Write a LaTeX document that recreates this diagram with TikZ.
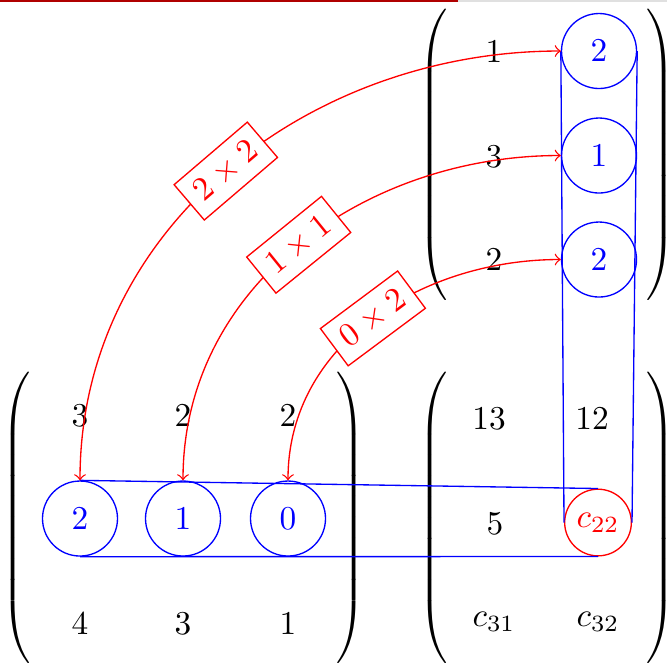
\documentclass[tikz,border=0pt]{standalone}
\usepackage{amsmath,amssymb}
\usepackage{graphicx}
\usepackage{tikz}
\usetikzlibrary{arrows.meta}

\newcommand{\matlp}{\scalebox{1}[1.04]{$\left(\vcenter{\hrule height 44.5pt depth 44.5pt width 0pt}\right.$}}
\newcommand{\matrp}{\scalebox{1}[1.04]{$\left.\vcenter{\hrule height 44.5pt depth 44.5pt width 0pt}\right)$}}

\begin{document}
\begin{tikzpicture}[x=0.3pt,y=0.3pt,>=to,
    entry/.style={inner sep=0pt},
    picked/.style={draw=blue,text=blue,circle,minimum size=22.5pt,inner sep=0pt},
    result/.style={draw=red,text=red,circle,minimum size=20pt,inner sep=0pt},
    prod/.style={draw=red,text=red,fill=white,sloped},
    paren/.style={inner sep=0pt}]
            \useasboundingbox (0,0) rectangle (667,-666);
            \draw [line width=0.6pt,color={rgb,255:red,176;green,0;blue,0}] (0,-1) -- (458,-1);
            \draw [line width=0.6pt,black!12] (458,-1) -- (667,-1);
            % left matrix
            \node [paren] (Alp) at (18,-517.5) {\matlp};
            \node [paren] (Arp) at (349,-517.5) {\matrp};
            \node [entry] (a11) at (80,-416) {$3$};
            \node [entry] (a12) at (183,-416) {$2$};
            \node [entry] (a13) at (288,-416) {$2$};
            \node [picked] (a21) at (80,-518.5) {$2$};
            \node [picked] (a22) at (183,-518.5) {$1$};
            \node [picked] (a23) at (288,-518.5) {$0$};
            \node [entry] (a31) at (80,-624) {$4$};
            \node [entry] (a32) at (183,-624) {$3$};
            \node [entry] (a33) at (288,-624) {$1$};
            % top right matrix
            \node [paren] (Blp) at (435,-155) {\matlp};
            \node [paren] (Brp) at (659,-155) {\matrp};
            \node [entry] (b11) at (494,-51.5) {$1$};
            \node [entry] (b21) at (494,-157) {$3$};
            \node [entry] (b31) at (494,-260) {$2$};
            \node [picked] (b12) at (599,-51) {$2$};
            \node [picked] (b22) at (599,-155.5) {$1$};
            \node [picked] (b32) at (599,-259.5) {$2$};
            % bottom right matrix
            \node [paren] (Clp) at (435,-518) {\matlp};
            \node [paren] (Crp) at (659,-518) {\matrp};
            \node [entry] (c11) at (489,-419) {$13$};
            \node [entry] (c12) at (592,-419) {$12$};
            \node [entry] (c21) at (495,-524) {$5$};
            \node [result] (c22) at (598,-522.5) {$c_{22}$};
            \node [entry] (c31) at (494,-622) {$c_{31}$};
            \node [entry] (c32) at (598,-622) {$c_{32}$};
            % row and column bands
            \draw [blue] (a21.north) -- (c22.north);
            \draw [blue] (a21.south) -- (c22.south);
            \draw [blue] (b12.west) -- (c22.west);
            \draw [blue] (b12.east) -- (c22.east);
            % products
            \draw [red,<->] (a21.north) to [out=90,in=180] node [prod] {$2\times2$} (b12.west);
            \draw [red,<->] (a22.north) to [out=90,in=180] node [prod] {$1\times1$} (b22.west);
            \draw [red,<->] (a23.north) to [out=90,in=180] node [prod] {$0\times2$} (b32.west);
        \end{tikzpicture}
\end{document}
